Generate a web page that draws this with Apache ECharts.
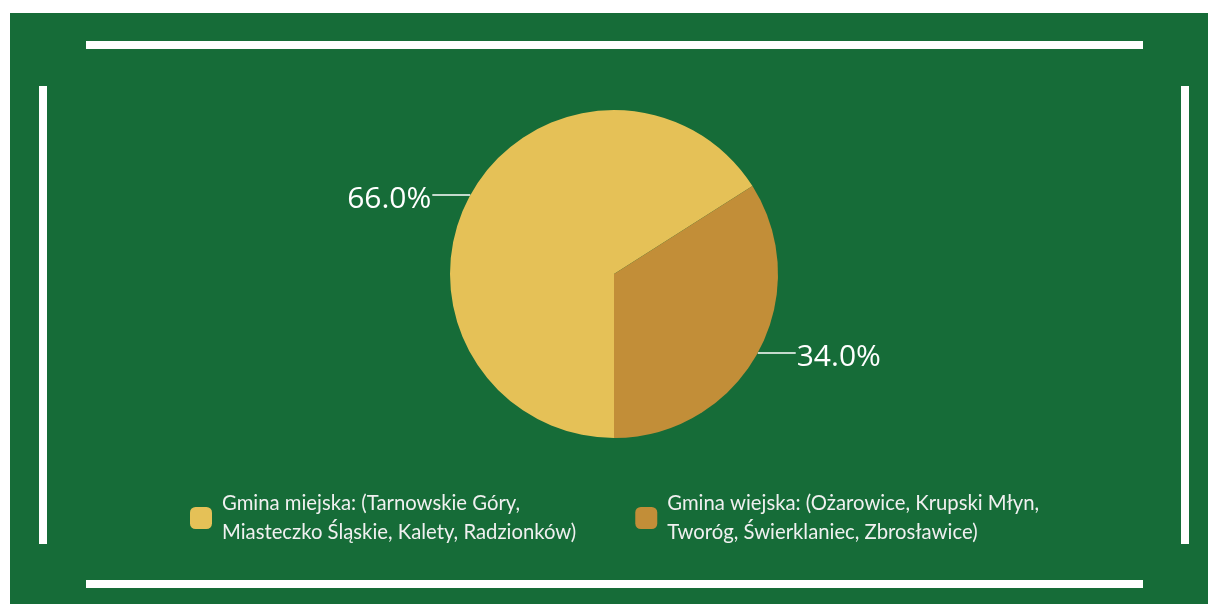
<!DOCTYPE html>
<html>
<head>
<meta charset="utf-8">
<script src="https://cdn.jsdelivr.net/npm/echarts@6/dist/echarts.min.js"></script>
<style>
html, body { margin: 0; padding: 0; background: #fff; }
#chart { width: 1208px; height: 604px; }
</style>
</head>
<body>
<div id="chart"></div>
<script>
// dane
var names = [
	'Gmina miejska: (Tarnowskie Góry,\nMiasteczko Śląskie, Kalety, Radzionków)',
	'Gmina wiejska: (Ożarowice, Krupski Młyn,\nTworóg, Świerklaniec, Zbrosławice)'
];
var values = [66, 34];
var colors = ['#E5C157', '#C28E38'];

var green = '#166C38';
var chart = echarts.init(document.getElementById('chart'));

var pieData = [];
for (var i = 0; i < names.length; i++) {
	pieData.push({ name: names[i], value: values[i], itemStyle: { color: colors[i] } });
}

// white frame bars
function bar(x, y, w, h) {
	return { type: 'rect', shape: { x: x, y: y, width: w, height: h }, style: { fill: '#fff' }, z: 1 };
}

var option = {
	backgroundColor: '#fff',
	animation: false,
	graphic: [
		{ type: 'rect', shape: { x: 10, y: 13, width: 1198, height: 591 }, style: { fill: green }, z: 0 },
		bar(86, 41, 1057, 8),
		bar(86, 580, 1057, 8),
		bar(39, 86, 8, 458),
		bar(1181, 86, 8, 458)
	],
	legend: {
		bottom: 52,
		left: 185,
		itemWidth: 22,
		itemHeight: 22,
		itemGap: 59,
		icon: 'roundRect',
		textStyle: {
			color: '#F0F0F0',
			fontSize: 20.3,
			lineHeight: 29,
			fontFamily: 'Lato',
			padding: [0, 0, 0, 5]
		}
	},
	series: [{
		type: 'pie',
		center: [614, 274],
		radius: 164,
		startAngle: 270,
		clockwise: true,
		avoidLabelOverlap: false,
		data: pieData,
		label: {
			show: true,
			position: 'outside',
			color: '#fff',
			distanceToLabelLine: 1,
			formatter: function (p) { return '{p|' + p.percent.toFixed(1) + '%}'; },
			rich: {
				p: {
					color: '#fff',
					fontSize: 30,
					fontFamily: 'Open Sans',
					padding: [8, 0, 0, 0]
				}
			}
		},
		labelLine: {
			show: true,
			length: 0,
			length2: 38,
			lineStyle: { color: '#fff', width: 1.5 }
		}
	}]
};
chart.setOption(option);
</script>
</body>
</html>
